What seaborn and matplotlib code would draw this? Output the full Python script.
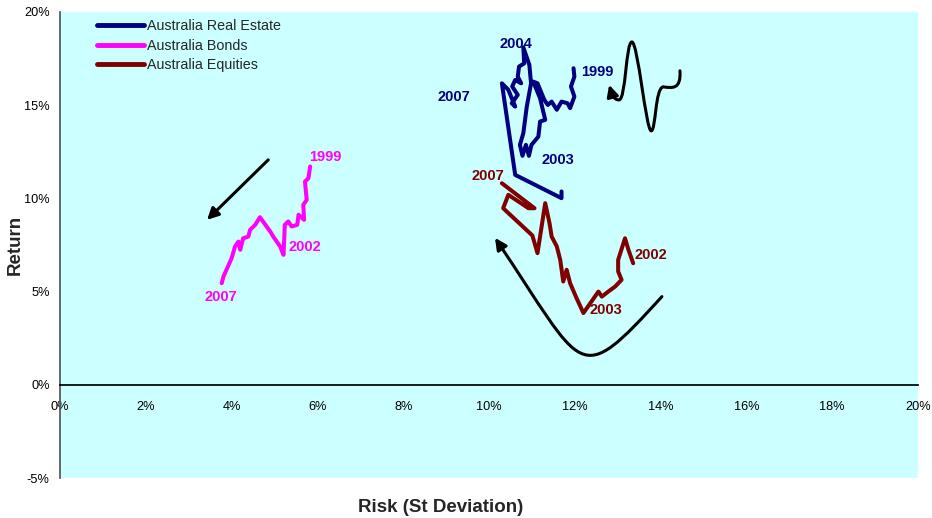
import numpy as np
import pandas as pd
import matplotlib
matplotlib.use('Agg')
import matplotlib.pyplot as plt
import seaborn as sns
from matplotlib.path import Path
from matplotlib.patches import FancyArrowPatch
from matplotlib.ticker import FuncFormatter

# rolling risk / return paths, in percent
re_risk = [11.97, 11.99, 11.91, 11.99, 11.89, 11.83, 11.69, 11.58, 11.46, 11.37, 11.29, 11.13, 11.03,
           11.19, 11.31, 11.19, 11.15, 10.99, 10.93, 10.86, 10.78, 10.72, 10.80, 10.88, 10.98, 10.94,
           10.80, 10.82, 10.70, 10.67, 10.75, 10.61, 10.54, 10.67, 10.53, 10.61, 10.45, 10.30, 10.61,
           11.69, 11.69]
re_ret = [16.98, 16.53, 16.00, 15.46, 14.84, 15.10, 15.19, 14.75, 15.19, 15.01, 15.28, 16.17, 16.26,
          15.37, 14.21, 14.12, 13.31, 12.87, 12.28, 12.87, 12.28, 12.87, 13.50, 14.92, 16.17, 17.16,
          18.10, 17.24, 17.07, 16.53, 16.17, 16.35, 16.00, 15.55, 15.10, 14.92, 15.82, 16.17, 11.26,
          10.01, 10.37]

bond_risk = [5.83, 5.79, 5.71, 5.75, 5.67, 5.69, 5.56, 5.53, 5.40, 5.32, 5.24, 5.21, 5.13, 4.97,
             4.90, 4.66, 4.55, 4.43, 4.39, 4.27, 4.20, 4.16, 4.08, 4.00, 3.88, 3.81, 3.77]
bond_ret = [11.71, 11.08, 10.90, 9.92, 9.65, 8.85, 9.12, 8.58, 8.49, 8.76, 8.58, 6.97, 7.42, 7.95,
            8.22, 8.99, 8.58, 8.31, 7.95, 7.86, 7.24, 7.68, 7.42, 6.79, 6.17, 5.81, 5.45]

eq_risk = [13.36, 13.25, 13.17, 13.01, 13.01, 13.09, 12.94, 12.78, 12.63, 12.55, 12.28, 12.20, 12.04,
           11.89, 11.81, 11.73, 11.66, 11.58, 11.46, 11.41, 11.31, 11.13, 11.01, 10.33, 10.45, 10.92,
           11.06, 10.30]
eq_ret = [6.52, 7.24, 7.86, 6.70, 6.08, 5.63, 5.27, 5.00, 4.73, 5.00, 4.11, 3.85, 4.65,
          5.45, 6.17, 5.54, 6.70, 7.42, 7.95, 8.67, 9.74, 7.06, 8.01, 9.47, 10.19, 9.47,
          9.47, 10.81]

series_names = ['Australia Real Estate', 'Australia Bonds', 'Australia Equities']
series_colors = ['#000080', '#FF00FF', '#800000']

# year labels: (text, risk, return, colour index)
year_labels = [('2004', 10.63, 18.28, 0), ('1999', 12.52, 16.78, 0), ('2007', 9.18, 15.44, 0),
               ('2003', 11.61, 12.06, 0),
               ('1999', 6.18, 12.23, 1), ('2002', 5.71, 7.40, 1), ('2007', 3.75, 4.72, 1),
               ('2007', 9.98, 11.21, 2), ('2002', 13.78, 6.97, 2), ('2003', 12.73, 4.02, 2)]

# black trend arrows (bezier control points, data units)
squiggle_x = [14.45, 14.48, 14.27, 14.06, 13.87, 13.89, 13.78, 13.66, 13.47, 13.33, 13.19, 13.19, 13.03, 12.91, 12.87, 12.80]
squiggle_y = [16.84, 15.82, 15.92, 15.98, 15.92, 13.62, 13.62, 13.62, 18.39, 18.39, 18.39, 15.28, 15.28, 15.28, 15.55, 16.09]
u_x = [14.03, 12.04, 12.24, 10.14]
u_y = [4.73, -0.31, 0.70, 7.88]
bond_arrow = [(4.90, 12.17), (3.38, 8.74)]

frames = []
for name, x, y in zip(series_names, [re_risk, bond_risk, eq_risk], [re_ret, bond_ret, eq_ret]):
    frames.append(pd.DataFrame({'risk': x, 'ret': y, 'asset': name}))
df = pd.concat(frames, ignore_index=True)

sns.set_theme(style='white')
plt.rcParams['font.family'] = ['Liberation Sans', 'DejaVu Sans']

fig = plt.figure(figsize=(9.32, 5.18), dpi=100)
ax = fig.add_axes([0.0644, 0.0772, 0.9206, 0.8998])
ax.set_facecolor('#CCFFFF')

sns.lineplot(data=df, x='risk', y='ret', hue='asset', estimator=None, sort=False,
             palette=series_colors, hue_order=series_names, linewidth=2.9, ax=ax)
for line in ax.get_lines():
    line.set_solid_joinstyle('round')
    line.set_solid_capstyle('round')

for txt, x, y, ci in year_labels:
    ax.text(x, y, txt, color=series_colors[ci], fontsize=10.5, fontweight='bold', ha='center', va='center')

# arrows
sq = FancyArrowPatch(path=Path(list(zip(squiggle_x, squiggle_y)), [Path.MOVETO] + [Path.CURVE4] * 15),
                     arrowstyle='-|>', mutation_scale=17, color='black', linewidth=2.2, transform=ax.transData)
ax.add_patch(sq)
uc = FancyArrowPatch(path=Path(list(zip(u_x, u_y)), [Path.MOVETO] + [Path.CURVE4] * 3),
                     arrowstyle='-|>', mutation_scale=17, color='black', linewidth=2.2, transform=ax.transData)
ax.add_patch(uc)
ax.annotate('', xy=bond_arrow[1], xytext=bond_arrow[0],
            arrowprops=dict(arrowstyle='-|>', color='black', lw=2.2, mutation_scale=17))

ax.set_xlim(0, 20)
ax.set_ylim(-5, 20)
ax.set_xticks(np.arange(0, 21, 2))
ax.set_yticks(np.arange(-5, 21, 5))
pct = FuncFormatter(lambda v, p: f'{v:.0f}%')
ax.xaxis.set_major_formatter(pct)
ax.yaxis.set_major_formatter(pct)
ax.tick_params(axis='both', labelsize=9.2, colors='black', direction='out', length=4, width=1)
ax.tick_params(axis='x', pad=8)
ax.spines['bottom'].set_position(('data', 0))
ax.spines['bottom'].set_color('black')
ax.spines['left'].set_color('#555555')
ax.spines['top'].set_visible(False)
ax.spines['right'].set_visible(False)
ax.set_xlabel('Risk (St Deviation)', fontsize=13.5, fontweight='bold')
ax.set_ylabel('Return', fontsize=13.5, fontweight='bold')
ax.xaxis.set_label_coords(0.444, -0.045)
ax.yaxis.set_label_coords(-0.042, 0.5)

leg = ax.legend(loc='upper left', bbox_to_anchor=(0.043, 0.985), frameon=False, fontsize=10.3,
                handlelength=3.3, handletextpad=0.2, labelspacing=0.4, borderpad=0, borderaxespad=0,
                title=None)
for line in leg.get_lines():
    line.set_linewidth(3.5)

fig.savefig('out.png', dpi=100)
